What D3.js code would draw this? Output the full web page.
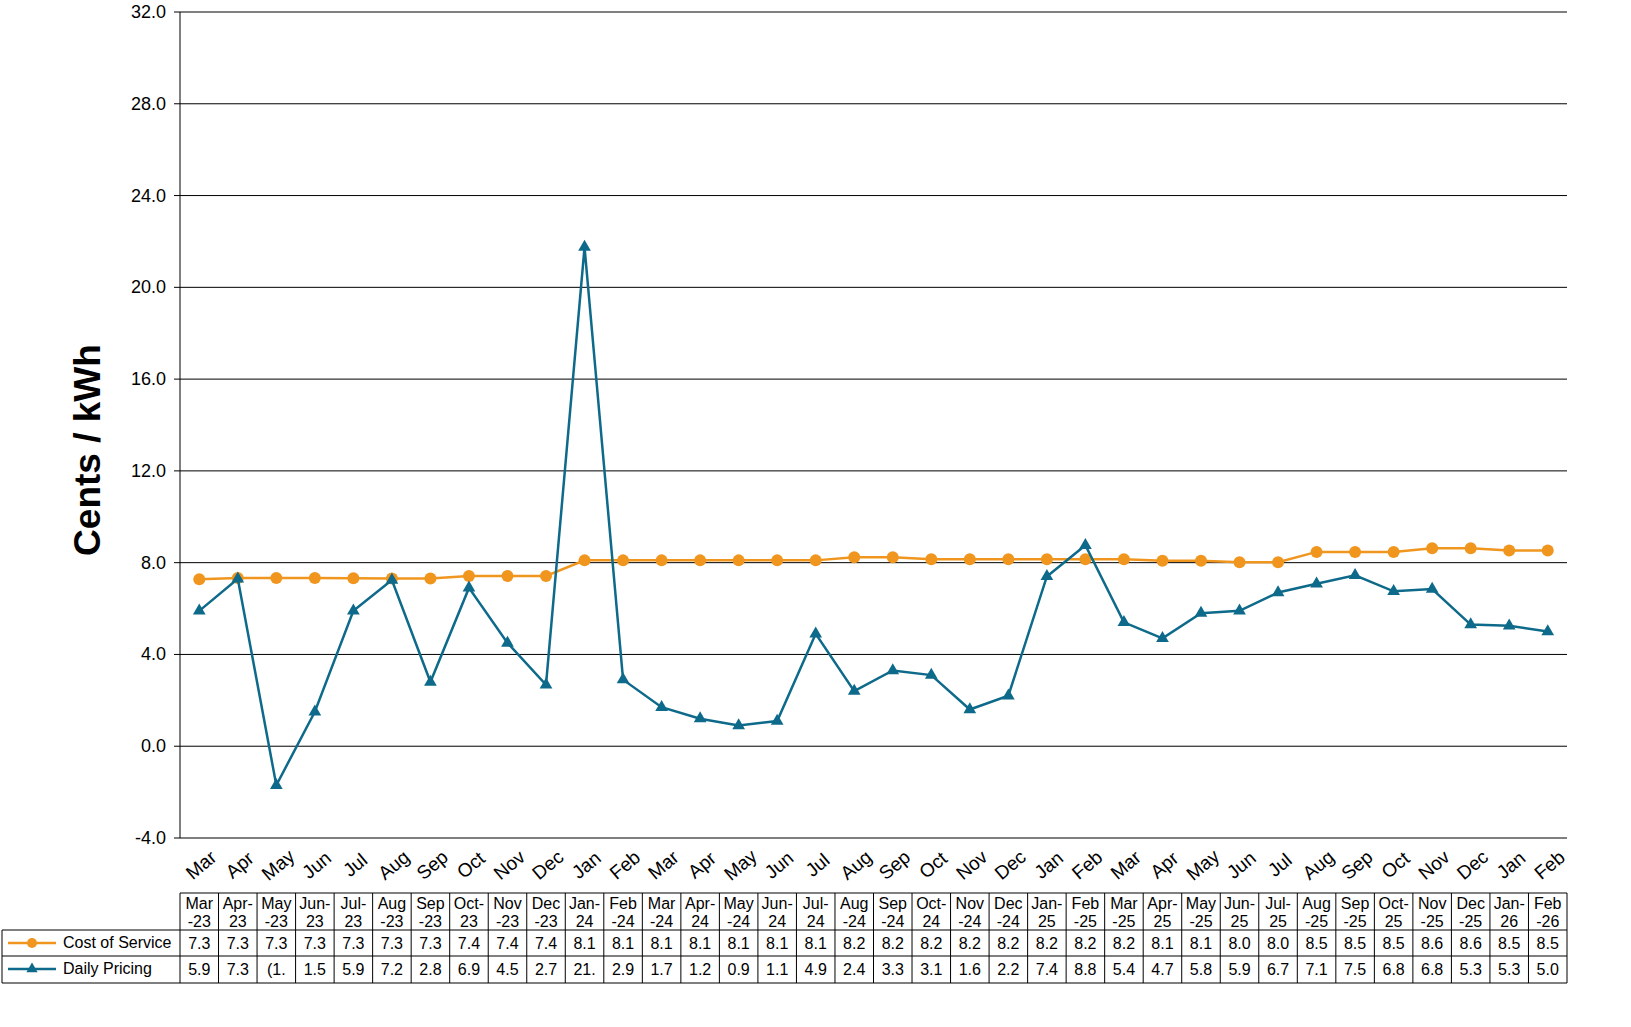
<!DOCTYPE html><html><head><meta charset="utf-8">
<script src="https://cdn.jsdelivr.net/npm/d3@7"></script>
<style>body{margin:0;background:#fff}text{font-family:"Liberation Sans",Arial,sans-serif}</style></head><body>
<svg id="c" width="1631" height="1027"></svg>
<script>
const months=["Mar","Apr","May","Jun","Jul","Aug","Sep","Oct","Nov","Dec","Jan","Feb","Mar","Apr","May","Jun","Jul","Aug","Sep","Oct","Nov","Dec","Jan","Feb","Mar","Apr","May","Jun","Jul","Aug","Sep","Oct","Nov","Dec","Jan","Feb"];
const tableCats=[["Mar","-23"],["Apr-","23"],["May","-23"],["Jun-","23"],["Jul-","23"],["Aug","-23"],["Sep","-23"],["Oct-","23"],["Nov","-23"],["Dec","-23"],["Jan-","24"],["Feb","-24"],["Mar","-24"],["Apr-","24"],["May","-24"],["Jun-","24"],["Jul-","24"],["Aug","-24"],["Sep","-24"],["Oct-","24"],["Nov","-24"],["Dec","-24"],["Jan-","25"],["Feb","-25"],["Mar","-25"],["Apr-","25"],["May","-25"],["Jun-","25"],["Jul-","25"],["Aug","-25"],["Sep","-25"],["Oct-","25"],["Nov","-25"],["Dec","-25"],["Jan-","26"],["Feb","-26"]];
const costOfService=[7.28,7.33,7.33,7.33,7.32,7.31,7.31,7.42,7.42,7.42,8.1,8.1,8.1,8.1,8.1,8.1,8.1,8.24,8.24,8.15,8.15,8.15,8.15,8.15,8.15,8.08,8.08,8.02,8.02,8.47,8.47,8.47,8.63,8.63,8.53,8.53];
const dailyPricing=[5.9,7.3,-1.7,1.5,5.9,7.24,2.8,6.9,4.5,2.68,21.75,2.9,1.7,1.2,0.9,1.1,4.9,2.4,3.3,3.1,1.6,2.2,7.4,8.76,5.4,4.7,5.8,5.9,6.7,7.08,7.45,6.75,6.85,5.3,5.25,5.0];
const yTicks=[-4,0,4,8,12,16,20,24,28,32];
const svg=d3.select("#c");
const L=180,R=1567,T=12,B=838;
const x=d3.scaleBand().domain(d3.range(36)).range([L,R]);
const y=d3.scaleLinear().domain([-4,32]).range([B,T]);
const g=svg.append("g");
yTicks.forEach(t=>{g.append("line").attr("x1",L-6).attr("x2",R).attr("y1",y(t)).attr("y2",y(t)).attr("stroke","#000").attr("stroke-width",1);
 g.append("text").attr("x",L-14).attr("y",y(t)+6).attr("text-anchor","end").attr("font-size",18).text(t.toFixed(1));});
g.append("line").attr("x1",L).attr("x2",L).attr("y1",T).attr("y2",B).attr("stroke","#000");
svg.append("text").attr("transform",`translate(100,${(T+B)/2+25}) rotate(-90)`).attr("text-anchor","middle").attr("font-size",37).attr("font-weight","bold").text("Cents / kWh");
const cx=i=>x(i)+x.bandwidth()/2;
const cOr="#F0961E",cBl="#0E6A8A";
const line=d3.line().x((d,i)=>cx(i)).y(d=>y(d));
svg.append("path").attr("d",line(costOfService)).attr("fill","none").attr("stroke",cOr).attr("stroke-width",2.5);
svg.selectAll(".co").data(costOfService).enter().append("circle").attr("cx",(d,i)=>cx(i)).attr("cy",d=>y(d)).attr("r",6).attr("fill",cOr);
svg.append("path").attr("d",line(dailyPricing)).attr("fill","none").attr("stroke",cBl).attr("stroke-width",2.5);
const tri=d3.symbol().type(d3.symbolTriangle).size(70);
svg.selectAll(".dp").data(dailyPricing).enter().append("path").attr("d",tri).attr("transform",(d,i)=>`translate(${cx(i)},${y(d)})`).attr("fill",cBl);
months.forEach((m,i)=>svg.append("text").attr("transform",`translate(${cx(i)+6},${870}) rotate(-40)`).attr("text-anchor","middle").attr("font-size",19).text(m));
const t1=893,t2=930,t3=956,t4=983;
const tg=svg.append("g");
const ln=(x1,y1,x2,y2)=>tg.append("line").attr("x1",x1).attr("y1",y1).attr("x2",x2).attr("y2",y2).attr("stroke","#000").attr("stroke-width",1);
ln(L,t1,R,t1);ln(2,t2,R,t2);ln(2,t3,R,t3);ln(2,t4,R,t4);ln(2,t2,2,t4);
for(let i=0;i<=36;i++){const xx=L+i*x.bandwidth();ln(xx,t1,xx,t4);}
const fmt=v=>{let s=v<0?"("+Math.abs(v).toFixed(1)+")":v.toFixed(1);return s.length>3?s.slice(0,3):s;};
tableCats.forEach((c,i)=>{tg.append("text").attr("x",cx(i)).attr("y",t1+16).attr("text-anchor","middle").attr("font-size",16).text(c[0]);
 tg.append("text").attr("x",cx(i)).attr("y",t1+34).attr("text-anchor","middle").attr("font-size",16).text(c[1]);
 tg.append("text").attr("x",cx(i)).attr("y",t2+19).attr("text-anchor","middle").attr("font-size",16).text(fmt(+costOfService[i].toFixed(1)));
 tg.append("text").attr("x",cx(i)).attr("y",t3+19).attr("text-anchor","middle").attr("font-size",16).text(fmt(+dailyPricing[i].toFixed(1)));});
[[t2,"Cost of Service",cOr,"c"],[t3,"Daily Pricing",cBl,"t"]].forEach(([ty,lab,col,s])=>{const my=ty+13;
 tg.append("line").attr("x1",8).attr("x2",56).attr("y1",my).attr("y2",my).attr("stroke",col).attr("stroke-width",2.5);
 if(s=="c")tg.append("circle").attr("cx",32).attr("cy",my).attr("r",5).attr("fill",col);
 else tg.append("path").attr("d",d3.symbol().type(d3.symbolTriangle).size(55)).attr("transform",`translate(32,${my})`).attr("fill",col);
 tg.append("text").attr("x",63).attr("y",my+5).attr("font-size",16).text(lab);});
</script></body></html>
